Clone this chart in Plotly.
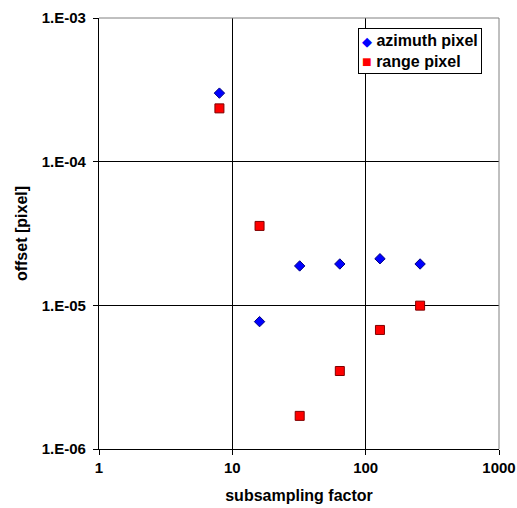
import plotly.graph_objects as go

subsampling = [8, 16, 32, 64, 128, 256]
azimuth_offset = [3.0e-4, 7.7e-6, 1.88e-5, 1.94e-5, 2.11e-5, 1.94e-5]
range_offset = [2.35e-4, 3.57e-5, 1.70e-6, 3.49e-6, 6.74e-6, 9.95e-6]

series_names = ["azimuth pixel", "range pixel"]

x_ticks = [1, 10, 100, 1000]
x_ticktext = ["1", "10", "100", "1000"]
y_ticks = [1e-6, 1e-5, 1e-4, 1e-3]
y_ticktext = ["1.E-06", "1.E-05", "1.E-04", "1.E-03"]

font_family = "Liberation Sans, Arial, sans-serif"

fig = go.Figure()
fig.add_trace(go.Scatter(
    x=subsampling, y=azimuth_offset, mode="markers", name=series_names[0],
    marker=dict(symbol="diamond", size=8, color="#0000ff",
                line=dict(color="#000080", width=1)),
    showlegend=False,
))
fig.add_trace(go.Scatter(
    x=subsampling, y=range_offset, mode="markers", name=series_names[1],
    marker=dict(symbol="square", size=9, color="#ff0000",
                line=dict(color="#800000", width=1)),
    showlegend=False,
))

legend_text = (
    "<span style='color:#0000ff;font-size:13px'>◆</span> <b>%s</b><br>"
    "<span style='color:#ff0000;font-size:16px'>■</span> <b>%s</b>"
) % (series_names[0], series_names[1])

fig.update_layout(
    width=517, height=508,
    margin=dict(l=99, r=18, t=18, b=59),
    paper_bgcolor="white", plot_bgcolor="white",
    font=dict(family=font_family, size=15, color="black"),
    showlegend=False,
    shapes=[dict(type="path", path="M 0,1 L 1,1 L 1,0", xref="paper", yref="paper",
                 line=dict(color="#808080", width=1), layer="above")],
    annotations=[dict(
        text=legend_text, xref="paper", yref="paper", x=0.957, y=0.976,
        xanchor="right", yanchor="top", align="left", showarrow=False,
        font=dict(family=font_family, size=16, color="black"),
        bgcolor="white", bordercolor="black", borderwidth=1, borderpad=3,
    )],
)

fig.update_xaxes(
    type="log", range=[0, 3], automargin=False, ticklabeloverflow="allow",
    tickvals=x_ticks, ticktext=["<b>%s</b>" % t for t in x_ticktext],
    tickfont=dict(family=font_family, size=15, color="black"),
    showgrid=True, gridcolor="black", gridwidth=1,
    showline=True, linecolor="black", linewidth=1,
    ticks="outside", ticklen=5, tickcolor="black",
    zeroline=False,
    title=dict(text="<b>subsampling factor</b>", font=dict(family=font_family, size=16, color="black"), standoff=14),
)
fig.update_yaxes(
    type="log", range=[-6, -3], automargin=False, ticklabeloverflow="allow",
    tickvals=y_ticks, ticktext=["<b>%s</b>&nbsp;" % t for t in y_ticktext],
    tickfont=dict(family=font_family, size=15, color="black"),
    showgrid=True, gridcolor="black", gridwidth=1,
    showline=True, linecolor="black", linewidth=1,
    ticks="outside", ticklen=5, tickcolor="black",
    zeroline=False,
    title=dict(text="<b>offset [pixel]</b>", font=dict(family=font_family, size=16, color="black"), standoff=10),
)

fig.write_html("out.html")
